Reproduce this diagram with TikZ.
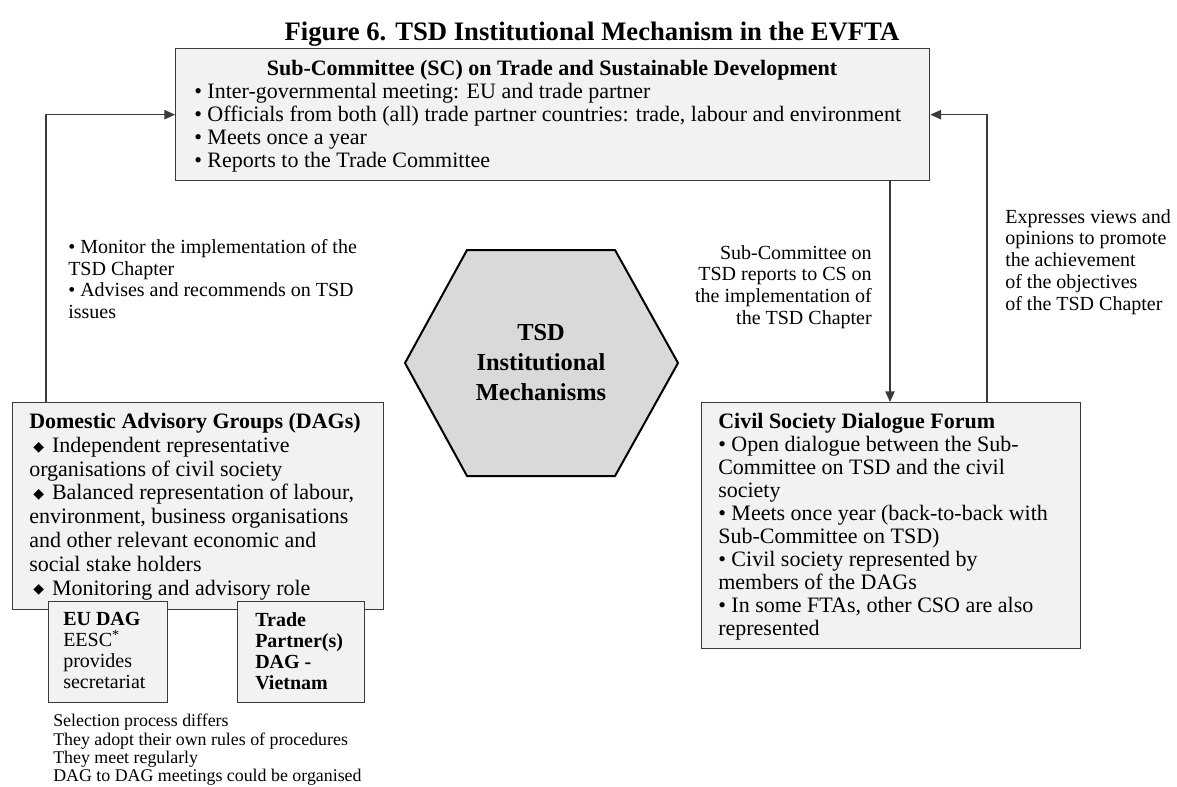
\documentclass[tikz,border=0pt]{standalone}
\usepackage{fontspec}
\setmainfont{Liberation Serif}
\newfontfamily\dejavu{DejaVu Sans}
\usetikzlibrary{arrows.meta}
\definecolor{boxfill}{HTML}{F2F2F2}
\definecolor{hexfill}{HTML}{D9D9D9}
\definecolor{edge}{HTML}{3A3A3A}
\newcommand{\dmd}{\hspace{3pt}{\dejavu\fontsize{10.5}{10.5}\selectfont\raisebox{1pt}{◆}}\hspace{6pt}}
\tikzset{
  box/.style={draw=edge, fill=boxfill, line width=1pt, inner sep=0pt, anchor=north west},
  txt/.style={inner sep=0pt, align=left, anchor=north west},
  arr/.style={draw=edge, line width=1pt, -{Triangle[length=8pt,width=7pt]}},
  bodyf/.style={font=\fontsize{16.5}{17.4}\selectfont},
  smallf/.style={font=\fontsize{15}{16.3}\selectfont},
}
\begin{document}
\begin{tikzpicture}[x=0.75pt,y=-0.75pt]
\useasboundingbox (0,0) rectangle (1177,786);

% title
\node[inner sep=0pt, anchor=north, font=\fontsize{20}{24}\selectfont\bfseries] (title) at (592,22) {Figure 6. TSD Institutional Mechanism in the EVFTA};

% boxes
\node[box, minimum width={754*0.75pt}, minimum height={132*0.75pt}] (sc) at (175,48) {};
\node[box, minimum width={371*0.75pt}, minimum height={207*0.75pt}] (dag) at (12,402) {};
\node[box, minimum width={119*0.75pt}, minimum height={101*0.75pt}] (eu) at (48,601) {};
\node[box, minimum width={127*0.75pt}, minimum height={101*0.75pt}] (tp) at (237,601) {};
\node[box, minimum width={379*0.75pt}, minimum height={246*0.75pt}] (cs) at (701,402) {};

% hexagon
\draw[fill=hexfill, draw=black, line width=1.5pt, line join=miter]
  (405,363) -- (467,250) -- (615,250) -- (678,363) -- (615,476) -- (467,476) -- cycle;
\node[inner sep=0pt, align=center, font=\fontsize{18.3}{22.5}\selectfont\bfseries] (hex) at (541,363) {TSD\\Institutional\\Mechanisms};

% connectors
\coordinate (lc) at (46,115);
\coordinate (rc) at (987,115);
\coordinate (dc) at (890,180);
\draw[arr] (dag.north -| lc) |- (sc.west);
\draw[arr] (cs.north -| rc) |- (sc.east);
\draw[arr] (sc.south -| dc) -- (cs.north -| dc);

% top box text
\node[inner sep=0pt, anchor=north, font=\fontsize{16.5}{17.4}\selectfont\bfseries] (sctitle) at (552,60) {Sub-Committee (SC) on Trade and Sustainable Development};
\node[txt, font=\fontsize{16.5}{17.25}\selectfont] (sctext) at (194,83) {%
• Inter-governmental meeting: EU and trade partner\\
• Officials from both (all) trade partner countries: trade, labour and environment\\
• Meets once a year\\
• Reports to the Trade Committee};

% DAG text
\node[txt, font=\fontsize{16.5}{17.85}\selectfont] (dagtext) at (29,413) {%
\textbf{Domestic Advisory Groups (DAGs)}\\
\dmd Independent representative\\
organisations of civil society\\
\dmd Balanced representation of labour,\\
environment, business organisations\\
and other relevant economic and\\
social stake holders\\
\dmd Monitoring and advisory role};

\node[txt, font=\fontsize{15}{15.75}\selectfont] (eutext) at (63,612) {%
\textbf{EU DAG}\\
EESC\textsuperscript{*}\\
provides\\
secretariat};
\node[txt, font=\fontsize{15}{15.75}\selectfont\bfseries] (tptext) at (255,612) {%
Trade\\
Partner(s)\\
DAG -\\
Vietnam};

\node[txt, font=\fontsize{13.4}{13.75}\selectfont] (notes) at (53,714) {%
Selection process differs\\
They adopt their own rules of procedures\\
They meet regularly\\
DAG to DAG meetings could be organised};

% CSDF text
\node[txt, font=\fontsize{16.5}{17.25}\selectfont] (cstext) at (718,413) {%
\textbf{Civil Society Dialogue Forum}\\
• Open dialogue between the Sub-\\
Committee on TSD and the civil\\
society\\
• Meets once year (back-to-back with\\
Sub-Committee on TSD)\\
• Civil society represented by\\
members of the DAGs\\
• In some FTAs, other CSO are also\\
represented};

% connector labels
\node[txt, smallf] (lefttext) at (68,239) {%
• Monitor the implementation of the\\
TSD Chapter\\
• Advises and recommends on TSD\\
issues};
\node[inner sep=0pt, align=right, anchor=north east, smallf] (midtext) at (872,245) {%
Sub-Committee on\\
TSD reports to CS on\\
the implementation of\\
the TSD Chapter};
\node[txt, smallf] (righttext) at (1005,209) {%
Expresses views and\\
opinions to promote\\
the achievement\\
of the objectives\\
of the TSD Chapter};
\end{tikzpicture}
\end{document}
